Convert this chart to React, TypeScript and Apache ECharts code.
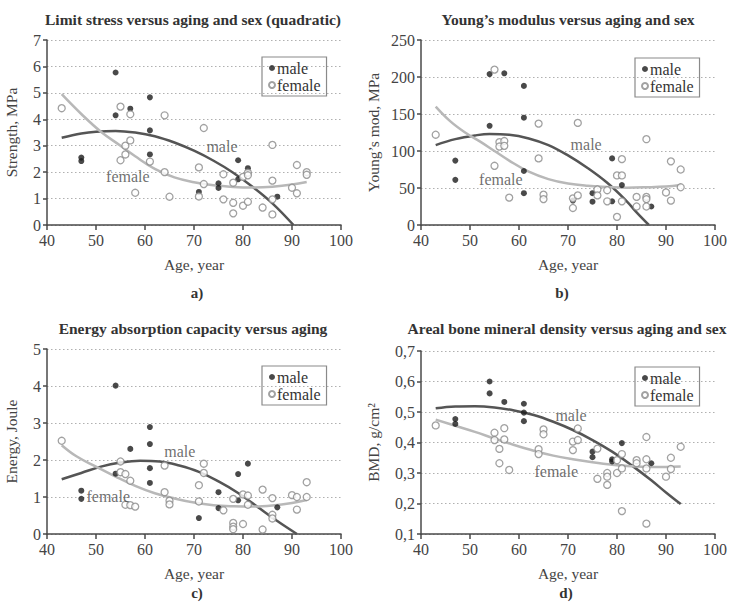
import React, { useEffect, useRef } from 'react';
import * as echarts from 'echarts';

const FONT = '"Liberation Serif", "DejaVu Serif", serif';

// ---------- Panel a: Limit stress ----------
const maleA = [[47,2.55],[47,2.42],[54,5.77],[54,4.15],[57,4.4],[61,4.83],[61,3.58],[61,2.67],[71,1.25],[75,1.58],[75,1.4],[79,2.45],[79,1.73],[81,2.15],[87,1.07]];
const femaleA = [[43,4.42],[55,4.48],[55,2.45],[56,3.0],[56,2.67],[57,4.19],[57,3.2],[58,1.22],[61,2.4],[64,4.15],[64,2.0],[65,1.07],[71,2.18],[71,1.08],[72,3.67],[72,1.55],[76,1.92],[76,0.97],[78,1.6],[78,0.84],[78,0.44],[80,0.73],[80,1.82],[81,1.98],[81,1.88],[81,0.88],[84,0.66],[86,3.03],[86,1.68],[86,0.97],[86,0.4],[90,1.41],[91,2.27],[91,1.2],[93,2.0],[93,1.9]];
const fitAgesMaleA = [43,47,50,54,58,62,66,70,74,78,82,86,90.3];
const fitValsMaleA = [3.3,3.46,3.53,3.56,3.5,3.36,3.12,2.81,2.43,1.98,1.44,0.82,0];
const fitAgesFemaleA = [43,47,51,55,58,62,66,70,74,78,82,86,90,93];
const fitValsFemaleA = [4.95,4.2,3.53,3.0,2.6,2.12,1.8,1.62,1.5,1.44,1.42,1.45,1.53,1.63];

// ---------- Panel b: Young's modulus ----------
const maleB = [[47,87],[47,61],[54,204],[54,134],[57,205],[61,188],[61,145],[61,73],[61,43],[71,33],[75,43],[75,31.5],[79,90],[79,32],[81,54],[87,25]];
const femaleB = [[43,122],[55,210],[55,80],[56,112],[57,113.5],[56,106],[57,107],[58,37],[64,137],[64,90],[65,41],[65,35],[71,36],[72,40],[71,23],[72,138],[76,48],[76,40],[78,47],[78,32],[80,67],[81,67],[81,89],[81,32],[80,11],[84,38],[84,25],[86,38],[86,35],[86,25],[86,116],[90,44],[91,86],[91,33],[93,75],[93,51]];
const fitAgesMaleB = [43,47,51,54,58,62,66,70,74,78,82,84,86.5];
const fitValsMaleB = [108,116,121,123,122,117,108,94,77,57,32,17,0];
const fitAgesFemaleB = [43,46,49,52,55,58,62,66,70,74,78,82,86,90,93];
const fitValsFemaleB = [160,140,125,113,100,87,72,62,56,53,51.5,50.5,51,52,54];

// ---------- Panel c: Energy absorption ----------
const maleC = [[47,1.17],[47,0.95],[54,4.01],[54,1.63],[57,2.3],[61,2.89],[61,2.43],[61,1.78],[61,1.38],[71,0.43],[75,1.13],[75,0.7],[79,1.62],[79,0.91],[81,1.9],[87,0.72]];
const femaleC = [[43,2.52],[55,1.96],[55,1.67],[56,1.62],[57,1.44],[56,0.79],[57,0.78],[58,0.74],[64,1.85],[64,1.13],[65,0.9],[65,0.8],[71,1.32],[71,0.88],[72,1.9],[72,1.65],[76,0.64],[78,0.95],[78,0.3],[78,0.2],[78,0.13],[80,0.27],[80,1.07],[81,1.04],[81,0.79],[84,1.2],[84,0.12],[86,0.97],[86,0.52],[86,0.42],[90,1.05],[91,1.0],[91,0.66],[93,1.4],[93,1.0]];
const fitAgesMaleC = [43,47,51,55,59,63,67,71,75,79,83,87,91];
const fitValsMaleC = [1.48,1.65,1.82,1.93,1.98,1.96,1.85,1.68,1.42,1.11,0.73,0.35,0];
const fitAgesFemaleC = [43,46,50,54,58,62,66,70,74,78,82,86,90,93];
const fitValsFemaleC = [2.4,2.1,1.82,1.55,1.3,1.1,0.96,0.85,0.78,0.75,0.74,0.77,0.84,0.92];

// ---------- Panel d: BMD ----------
const maleD = [[47,0.477],[47,0.461],[54,0.6],[54,0.561],[57,0.533],[61,0.527],[61,0.498],[61,0.47],[75,0.37],[75,0.352],[79,0.345],[79,0.338],[81,0.398],[87,0.332]];
const femaleD = [[43,0.456],[55,0.432],[55,0.408],[56,0.379],[56,0.332],[57,0.447],[57,0.41],[58,0.31],[64,0.378],[64,0.362],[65,0.443],[65,0.427],[71,0.403],[71,0.375],[72,0.446],[72,0.408],[76,0.38],[76,0.281],[78,0.3],[78,0.288],[78,0.261],[80,0.3],[80,0.342],[81,0.362],[81,0.315],[81,0.175],[84,0.342],[84,0.332],[86,0.418],[86,0.345],[86,0.315],[86,0.134],[90,0.288],[91,0.35],[91,0.313],[93,0.386]];
const fitAgesMaleD = [43,47,51,55,59,63,67,71,75,79,83,87,90,93];
const fitValsMaleD = [0.512,0.518,0.519,0.515,0.505,0.49,0.468,0.441,0.408,0.37,0.325,0.276,0.236,0.198];
const fitAgesFemaleD = [43,47,51,55,59,63,67,71,75,79,83,87,90,93];
const fitValsFemaleD = [0.475,0.455,0.435,0.413,0.392,0.373,0.357,0.345,0.335,0.327,0.322,0.32,0.32,0.321];

// curve annotations [age, value]
const labelMaleA = [75.7, 2.96];
const labelFemaleA = [56.5, 1.85];
const labelMaleB = [73.7, 109];
const labelFemaleB = [56.3, 61];
const labelMaleC = [67.1, 2.23];
const labelFemaleC = [52.5, 1.02];
const labelMaleD = [70.6, 0.49];
const labelFemaleD = [67.6, 0.305];

const titles = [
  'Limit stress versus aging and sex (quadratic)',
  'Young\u2019s modulus versus aging and sex',
  'Energy absorption capacity versus aging',
  'Areal bone mineral density versus aging and sex',
];
const tags = ['a)', 'b)', 'c)', 'd)'];
const yNames = ['Strength, MPa', 'Young\u2019s mod, MPa', 'Energy, Joule', 'BMD, g/cm\u00b2'];
const xName = 'Age, year';

const zip = (a: number[], b: number[]) => a.map((x, i) => [x, b[i]]);

const panels = [
  { male: maleA, female: femaleA, mFit: zip(fitAgesMaleA, fitValsMaleA), fFit: zip(fitAgesFemaleA, fitValsFemaleA), lm: labelMaleA, lf: labelFemaleA,
    grid: { left: 47, top: 40, width: 294, height: 185 }, y: [0, 7, 1], yGap: 28, legend: { left: 262, top: 57 }, title: [193, 19], tag: [197, 293], fmt: (v: number) => String(v) },
  { male: maleB, female: femaleB, mFit: zip(fitAgesMaleB, fitValsMaleB), fFit: zip(fitAgesFemaleB, fitValsFemaleB), lm: labelMaleB, lf: labelFemaleB,
    grid: { left: 421, top: 40, width: 294, height: 185 }, y: [0, 250, 50], yGap: 40, legend: { left: 635, top: 58 }, title: [568, 19], tag: [562, 293], fmt: (v: number) => String(v) },
  { male: maleC, female: femaleC, mFit: zip(fitAgesMaleC, fitValsMaleC), fFit: zip(fitAgesFemaleC, fitValsFemaleC), lm: labelMaleC, lf: labelFemaleC,
    grid: { left: 47, top: 349, width: 294, height: 185 }, y: [0, 5, 1], yGap: 28, legend: { left: 262, top: 366 }, title: [193, 328], tag: [197, 593], fmt: (v: number) => String(v) },
  { male: maleD, female: femaleD, mFit: zip(fitAgesMaleD, fitValsMaleD), fFit: zip(fitAgesFemaleD, fitValsFemaleD), lm: labelMaleD, lf: labelFemaleD,
    grid: { left: 421, top: 351, width: 294, height: 183 }, y: [0.1, 0.7, 0.1], yGap: 40, legend: { left: 635, top: 367 }, title: [567, 328], tag: [566, 593], fmt: (v: number) => v.toFixed(1).replace('.', ',') },
];

function buildOption() {
  const axisColor = '#4a4a4a';
  const grids: any[] = [];
  const xAxes: any[] = [];
  const yAxes: any[] = [];
  const series: any[] = [];
  const legends: any[] = [];
  const graphics: any[] = [];

  panels.forEach((p, i) => {
    grids.push({ ...p.grid });
    xAxes.push({
      gridIndex: i, type: 'value', min: 40, max: 100, interval: 10,
      name: xName, nameLocation: 'middle', nameGap: 31,
      nameTextStyle: { fontFamily: FONT, fontSize: 15.5, color: '#444' },
      axisLine: { lineStyle: { color: axisColor, width: 1.5 } },
      axisTick: { show: true, length: 5, lineStyle: { color: axisColor, width: 1.5 } },
      axisLabel: { fontFamily: FONT, fontSize: 16, color: '#444', margin: 7 },
      splitLine: { show: false },
    });
    yAxes.push({
      gridIndex: i, type: 'value', min: p.y[0], max: p.y[1], interval: p.y[2],
      name: yNames[i], nameLocation: 'middle', nameGap: p.yGap, nameRotate: 90,
      nameTextStyle: { fontFamily: FONT, fontSize: 15.5, color: '#444' },
      axisLine: { show: true, lineStyle: { color: axisColor, width: 1.5 } },
      axisTick: { show: true, length: 4, lineStyle: { color: axisColor, width: 1.5 } },
      axisLabel: { fontFamily: FONT, fontSize: 16, color: '#444', margin: 6, formatter: p.fmt },
      splitLine: { show: true, lineStyle: { color: '#b0b0b0', type: [1.5, 2.5], width: 1.2 } },
    });
    series.push({
      type: 'line', name: 'male fit', xAxisIndex: i, yAxisIndex: i, data: p.mFit, smooth: 0.4,
      showSymbol: false, symbol: 'none', lineStyle: { color: '#555', width: 2.5 }, z: 2,
    });
    series.push({
      type: 'line', name: 'female fit', xAxisIndex: i, yAxisIndex: i, data: p.fFit, smooth: 0.4,
      showSymbol: false, symbol: 'none', lineStyle: { color: '#b8b8b8', width: 2.5 }, z: 2,
    });
    series.push({
      type: 'scatter', name: 'male', xAxisIndex: i, yAxisIndex: i, data: p.male,
      symbol: 'circle', symbolSize: 6, itemStyle: { color: '#1c1c1c' }, z: 3,
    });
    series.push({
      type: 'scatter', name: 'female', xAxisIndex: i, yAxisIndex: i, data: p.female,
      symbol: 'circle', symbolSize: 7, itemStyle: { color: '#ffffff', borderColor: '#8a8a8a', borderWidth: 1.3 }, z: 3,
    });
    series.push({
      type: 'scatter', name: 'curve labels', xAxisIndex: i, yAxisIndex: i, symbolSize: 0, z: 4, silent: true,
      data: [{ value: p.lm, name: 'male' }, { value: p.lf, name: 'female' }],
      label: { show: true, position: 'inside', formatter: (d: any) => d.name, fontFamily: FONT, fontSize: 16, color: '#4a4a4a' },
    });
    legends.push({
      data: ['male', 'female'], orient: 'vertical', left: p.legend.left, top: p.legend.top,
      itemWidth: 6, itemHeight: 6, itemGap: 1, icon: 'circle',
      borderColor: '#8a8a8a', borderWidth: 1.2, padding: [3, 6, 3, 6], selectedMode: false,
      textStyle: { fontFamily: FONT, fontSize: 16, color: '#333', padding: [0, 0, 0, -3] },
    });
    graphics.push({
      type: 'text', x: p.title[0], y: p.title[1],
      style: { text: titles[i], fontFamily: FONT, fontSize: 15.5, fontWeight: 'bold', fill: '#333', textAlign: 'center', textVerticalAlign: 'middle' },
    });
    graphics.push({
      type: 'text', x: p.tag[0], y: p.tag[1],
      style: { text: tags[i], fontFamily: FONT, fontSize: 15, fontWeight: 'bold', fill: '#333', textAlign: 'center', textVerticalAlign: 'middle' },
    });
  });

  return {
    animation: false,
    backgroundColor: '#ffffff',
    grid: grids, xAxis: xAxes, yAxis: yAxes, series, legend: legends, graphic: graphics,
  };
}

export default function App() {
  const ref = useRef<HTMLDivElement>(null);
  useEffect(() => {
    document.body.style.margin = '0';
    const chart = echarts.init(ref.current!, undefined, { renderer: 'svg' });
    chart.setOption(buildOption() as any);
    return () => chart.dispose();
  }, []);
  return <div ref={ref} style={{ width: 732, height: 609 }} />;
}
